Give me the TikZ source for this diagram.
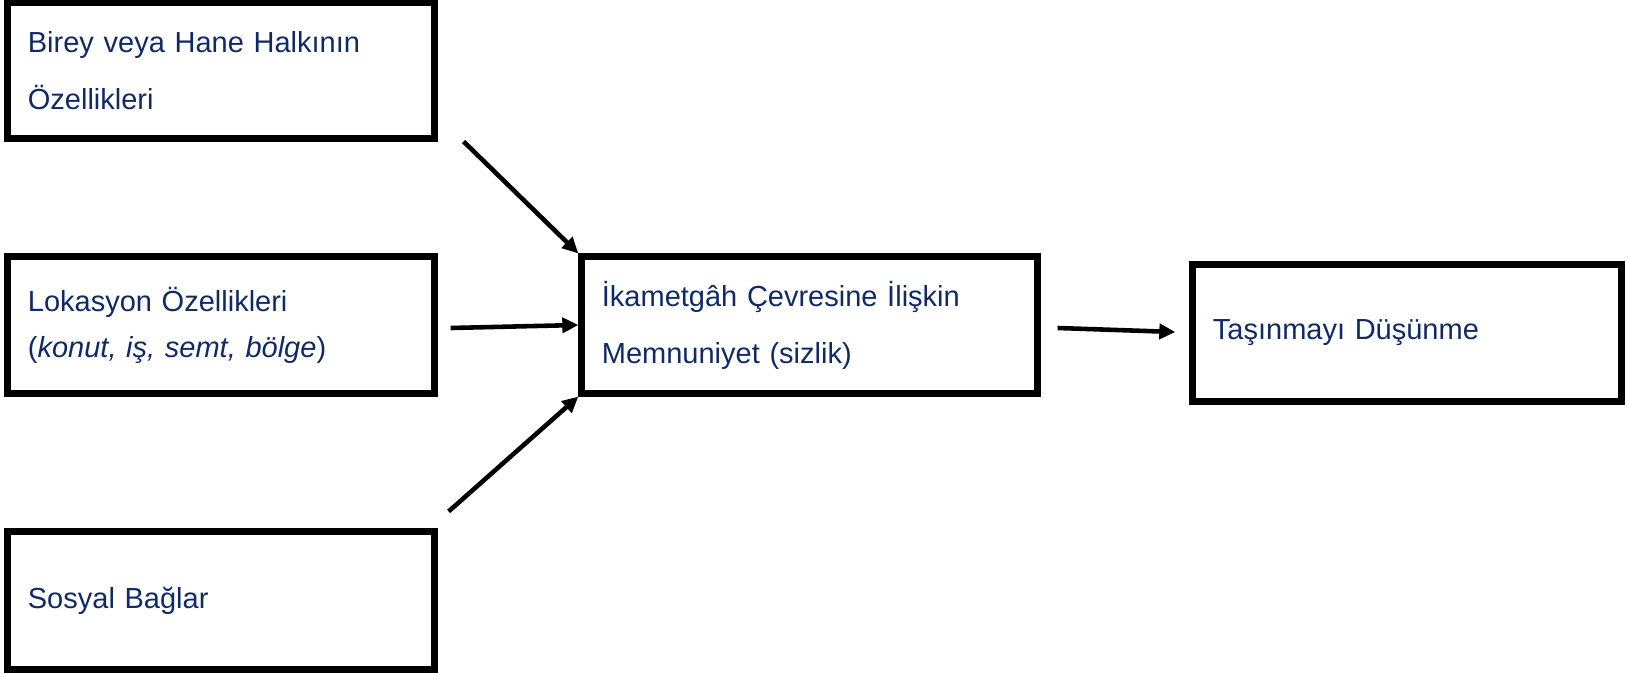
\documentclass[tikz,border=0pt]{standalone}
\usepackage{fontspec}
\setmainfont{Liberation Sans}
\usepackage{tikz}
\usetikzlibrary{arrows.meta}
\definecolor{txtblue}{RGB}{16,42,104}
\tikzstyle{blok}=[shape=rectangle,draw,line width=2pt,inner xsep=0.2cm,inner ysep=0pt,align=left,text=txtblue,font=\fontsize{8.25}{16.2}\selectfont]
\tikzstyle{tran}=[draw,line width=1.3pt,-{Triangle[length=0.16cm,width=0.15cm]}]

\begin{document}
\begin{tikzpicture}[x=0.01cm,y=-0.01cm]
\useasboundingbox (0,0) rectangle (1629,673);

\node[blok, text width=3.86cm, minimum height=1.35cm] (hane) at (221,70.5) {Birey veya Hane Halkının\\Özellikleri};
\node[blok, text width=3.86cm, minimum height=1.36cm] (lok) at (221,325) {Lokasyon Özellikleri\\[-3.1pt](\textit{konut, iş, semt, bölge})};
\node[blok, text width=3.86cm, minimum height=1.37cm] (sos) at (221,600.5) {Sosyal Bağlar};
\node[blok, text width=4.15cm, minimum height=1.36cm] (mem) at (809.5,325) {İkametgâh Çevresine İlişkin\\Memnuniyet (sizlik)};
\node[blok, text width=3.88cm, minimum height=1.36cm] (tas) at (1407,333) {Taşınmayı Düşünme};

\draw[tran] ([xshift=0.26cm]hane.south east) -- (mem.north west);
\draw[tran] ([xshift=0.13cm,yshift=-0.03cm]lok.east) -- (mem.west);
\draw[tran] ([xshift=0.11cm,yshift=0.17cm]sos.north east) -- (mem.south west);
\draw[tran] ([xshift=0.17cm,yshift=-0.03cm]mem.east) -- ([xshift=-0.14cm,yshift=0.01cm]tas.west);
\end{tikzpicture}
\end{document}
